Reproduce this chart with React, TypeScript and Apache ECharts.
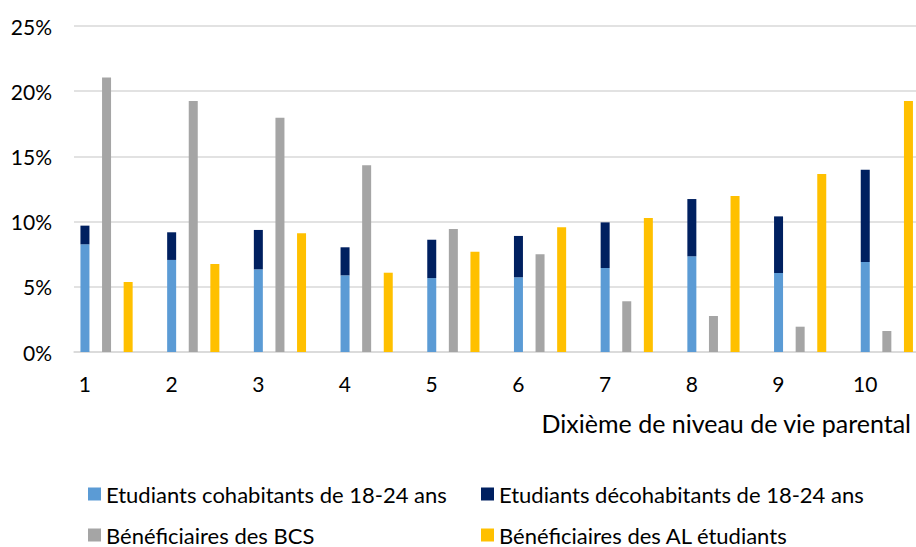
import React, { useEffect, useRef } from "react";
import * as echarts from "echarts";

const categories = ["1", "2", "3", "4", "5", "6", "7", "8", "9", "10"];
const cohabitants = [8.26, 7.06, 6.34, 5.88, 5.67, 5.73, 6.44, 7.34, 6.06, 6.9];
const decohabitants = [1.43, 2.12, 3.02, 2.15, 2.94, 3.17, 3.5, 4.39, 4.34, 7.08];
const bcs = [21.06, 19.25, 17.97, 14.32, 9.43, 7.49, 3.89, 2.76, 1.94, 1.61];
const alEtudiants = [5.37, 6.75, 9.1, 6.08, 7.69, 9.56, 10.28, 11.96, 13.65, 19.25];
const yTicks = [0, 5, 10, 15, 20, 25];

const names = [
  "Etudiants cohabitants de 18-24 ans",
  "Etudiants décohabitants de 18-24 ans",
  "Bénéficiaires des BCS",
  "Bénéficiaires des AL étudiants",
];
const colors = ["#5B9BD5", "#002060", "#A5A5A5", "#FFC000"];
const FONT = "Lato, 'Open Sans', 'Liberation Sans', sans-serif";

export default function App() {
  const ref = useRef<HTMLDivElement>(null);
  useEffect(() => {
    if (!ref.current) return;
    const chart = echarts.init(ref.current, null, { renderer: "svg" });
    const barBase = {
      type: "bar" as const,
      barWidth: 9,
      barGap: "140%",
      barCategoryGap: "0%",
    };
    const legendPos = [
      { left: 88, top: 483 },
      { left: 481, top: 483 },
      { left: 88, top: 524 },
      { left: 481, top: 524 },
    ];
    chart.setOption({
      animation: false,
      color: colors,
      textStyle: { fontFamily: FONT },
      grid: { left: 74, right: 0, top: 26, bottom: 195, containLabel: false },
      xAxis: {
        type: "category",
        data: categories,
        axisLine: { lineStyle: { color: "#D9D9D9", width: 1.5 } },
        axisTick: { show: false },
        axisLabel: {
          interval: 0,
          margin: 21,
          fontSize: 21,
          color: "#000",
          fontFamily: FONT,
          padding: [0, 65, 0, 0],
        },
      },
      yAxis: {
        type: "value",
        min: 0,
        max: yTicks[yTicks.length - 1],
        interval: 5,
        axisLine: { show: false },
        axisTick: { show: false },
        splitLine: { lineStyle: { color: "#D9D9D9", width: 1.5 } },
        axisLabel: {
          margin: 22,
          fontSize: 21,
          color: "#000",
          fontFamily: FONT,
          formatter: "{value}%",
        },
      },
      legend: legendPos.map((p, i) => ({
        data: [names[i]],
        left: p.left,
        top: p.top,
        padding: 0,
        icon: "rect",
        itemWidth: 13,
        itemHeight: 13,
        textStyle: { fontSize: 22, lineHeight: 22, color: "#000", fontFamily: FONT },
        selectedMode: false,
      })),
      graphic: [
        {
          type: "text",
          x: 911,
          y: 423,
          style: {
            text: "Dixième de niveau de vie parental",
            align: "right",
            verticalAlign: "middle",
            fontSize: 25,
            fontFamily: FONT,
            fill: "#000",
          },
        },
      ],
      series: [
        { ...barBase, name: names[0], stack: "etud", data: cohabitants, itemStyle: { color: colors[0] } },
        { ...barBase, name: names[1], stack: "etud", data: decohabitants, itemStyle: { color: colors[1] } },
        { ...barBase, name: names[2], data: bcs, itemStyle: { color: colors[2] } },
        { ...barBase, name: names[3], data: alEtudiants, itemStyle: { color: colors[3] } },
        { ...barBase, name: "__gap", data: categories.map(() => "-") },
      ],
    });
    return () => chart.dispose();
  }, []);
  return (
    <div
      style={{ position: "fixed", left: 0, top: 0, width: 916, height: 547, overflow: "hidden", background: "#fff" }}
    >
      <div ref={ref} style={{ width: 941, height: 547 }} />
    </div>
  );
}
